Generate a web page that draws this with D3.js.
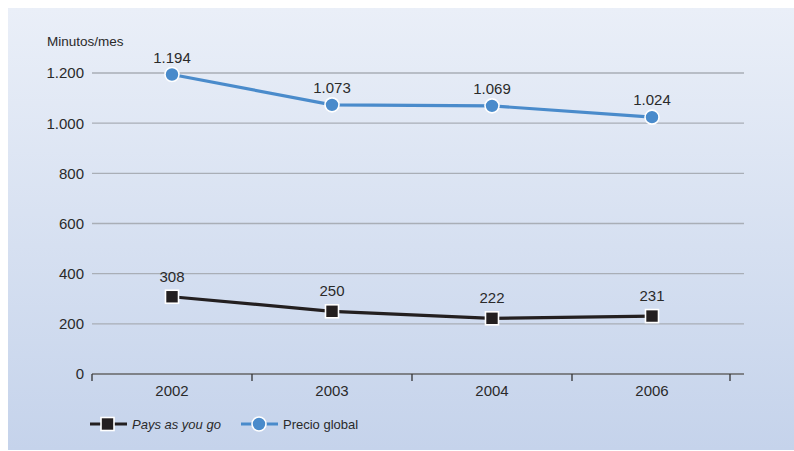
<!DOCTYPE html>
<html><head><meta charset="utf-8">
<script src="https://cdn.jsdelivr.net/npm/d3@7"></script>
<style>
body{margin:0;background:#fff;}
text{font-family:"Liberation Sans",Arial,sans-serif;fill:#2a2a2a;}
</style></head>
<body><svg id="c" width="794" height="451"></svg>
<script>
const years = ["2002","2003","2004","2006"];
const paysAsYouGo = [308,250,222,231];
const precioGlobal = [1194,1073,1069,1024];
const yTicks = [0,200,400,600,800,1000,1200];
const seriesNames = ["Pays as you go","Precio global"];
const fmt = v => d3.format(",")(v).replace(/,/g,".");

const svg = d3.select("#c");
const defs = svg.append("defs");
const g = defs.append("linearGradient").attr("id","bg").attr("x1",0).attr("y1",0).attr("x2",0).attr("y2",1);
g.append("stop").attr("offset","0%").attr("stop-color","#eaeff8");
g.append("stop").attr("offset","100%").attr("stop-color","#c5d3eb");
svg.append("rect").attr("x",8).attr("y",8).attr("width",786).attr("height",442).attr("fill","url(#bg)");

const x = d3.scaleBand().domain(years).range([92,732]);
const y = d3.scaleLinear().domain([0,1200]).range([374,73]);

// grid
svg.append("g").selectAll("line").data(yTicks.filter(d=>d>0)).join("line")
  .attr("x1",92).attr("x2",744).attr("y1",d=>y(d)).attr("y2",d=>y(d))
  .attr("stroke","#a9aeb6").attr("stroke-width",1.3);
// y labels
svg.append("g").selectAll("text").data(yTicks).join("text")
  .attr("x",84).attr("y",d=>y(d)).attr("dy","0.36em").attr("text-anchor","end")
  .attr("font-size",15).text(d=>fmt(d));
svg.append("text").attr("x",47).attr("y",46).attr("font-size",13.5).text("Minutos/mes");

// x axis
svg.append("line").attr("x1",92).attr("x2",744).attr("y1",y(0)).attr("y2",y(0)).attr("stroke","#666").attr("stroke-width",1.5);
const tickPos = years.map(d=>x(d)).concat([x(years[years.length-1])+x.bandwidth()-2]);
svg.append("g").selectAll("line").data(tickPos).join("line")
  .attr("x1",d=>d).attr("x2",d=>d).attr("y1",y(0)).attr("y2",y(0)+7).attr("stroke","#333").attr("stroke-width",1.3);
svg.append("g").selectAll("text").data(years).join("text")
  .attr("x",d=>x(d)+x.bandwidth()/2).attr("y",396).attr("text-anchor","middle").attr("font-size",15).text(d=>d);

const cx = d => x(d)+x.bandwidth()/2;
const line = d3.line().x((d,i)=>cx(years[i])).y(d=>y(d));

// blue series
svg.append("path").datum(precioGlobal).attr("d",line).attr("fill","none").attr("stroke","#4a8bcb").attr("stroke-width",3.2);
svg.append("g").selectAll("circle").data(precioGlobal).join("circle")
  .attr("cx",(d,i)=>cx(years[i])).attr("cy",d=>y(d)).attr("r",7)
  .attr("fill","#4a8bcb").attr("stroke","#fff").attr("stroke-width",1.6);
svg.append("g").selectAll("text").data(precioGlobal).join("text")
  .attr("x",(d,i)=>cx(years[i])).attr("y",d=>y(d)-12).attr("text-anchor","middle").attr("font-size",15).text(d=>fmt(d));

// black series
svg.append("path").datum(paysAsYouGo).attr("d",line).attr("fill","none").attr("stroke","#231f20").attr("stroke-width",3.2);
svg.append("g").selectAll("rect").data(paysAsYouGo).join("rect")
  .attr("x",(d,i)=>cx(years[i])-6.5).attr("y",d=>y(d)-6.5).attr("width",13).attr("height",13)
  .attr("fill","#231f20").attr("stroke","#fff").attr("stroke-width",1.6);
svg.append("g").selectAll("text").data(paysAsYouGo).join("text")
  .attr("x",(d,i)=>cx(years[i])).attr("y",d=>y(d)-15).attr("text-anchor","middle").attr("font-size",15).text(d=>fmt(d));

// legend
const ly = 424;
svg.append("line").attr("x1",90).attr("x2",127).attr("y1",ly).attr("y2",ly).attr("stroke","#231f20").attr("stroke-width",3.2);
svg.append("rect").attr("x",101).attr("y",ly-6.5).attr("width",13).attr("height",13).attr("fill","#231f20").attr("stroke","#fff").attr("stroke-width",1.6);
svg.append("text").attr("x",132).attr("y",ly).attr("dy","0.36em").attr("font-size",13).attr("font-style","italic").text(seriesNames[0]);
svg.append("line").attr("x1",241).attr("x2",278).attr("y1",ly).attr("y2",ly).attr("stroke","#4a8bcb").attr("stroke-width",3.2);
svg.append("circle").attr("cx",259).attr("cy",ly).attr("r",7).attr("fill","#4a8bcb").attr("stroke","#fff").attr("stroke-width",1.6);
svg.append("text").attr("x",283).attr("y",ly).attr("dy","0.36em").attr("font-size",13).text(seriesNames[1]);
</script></body></html>
